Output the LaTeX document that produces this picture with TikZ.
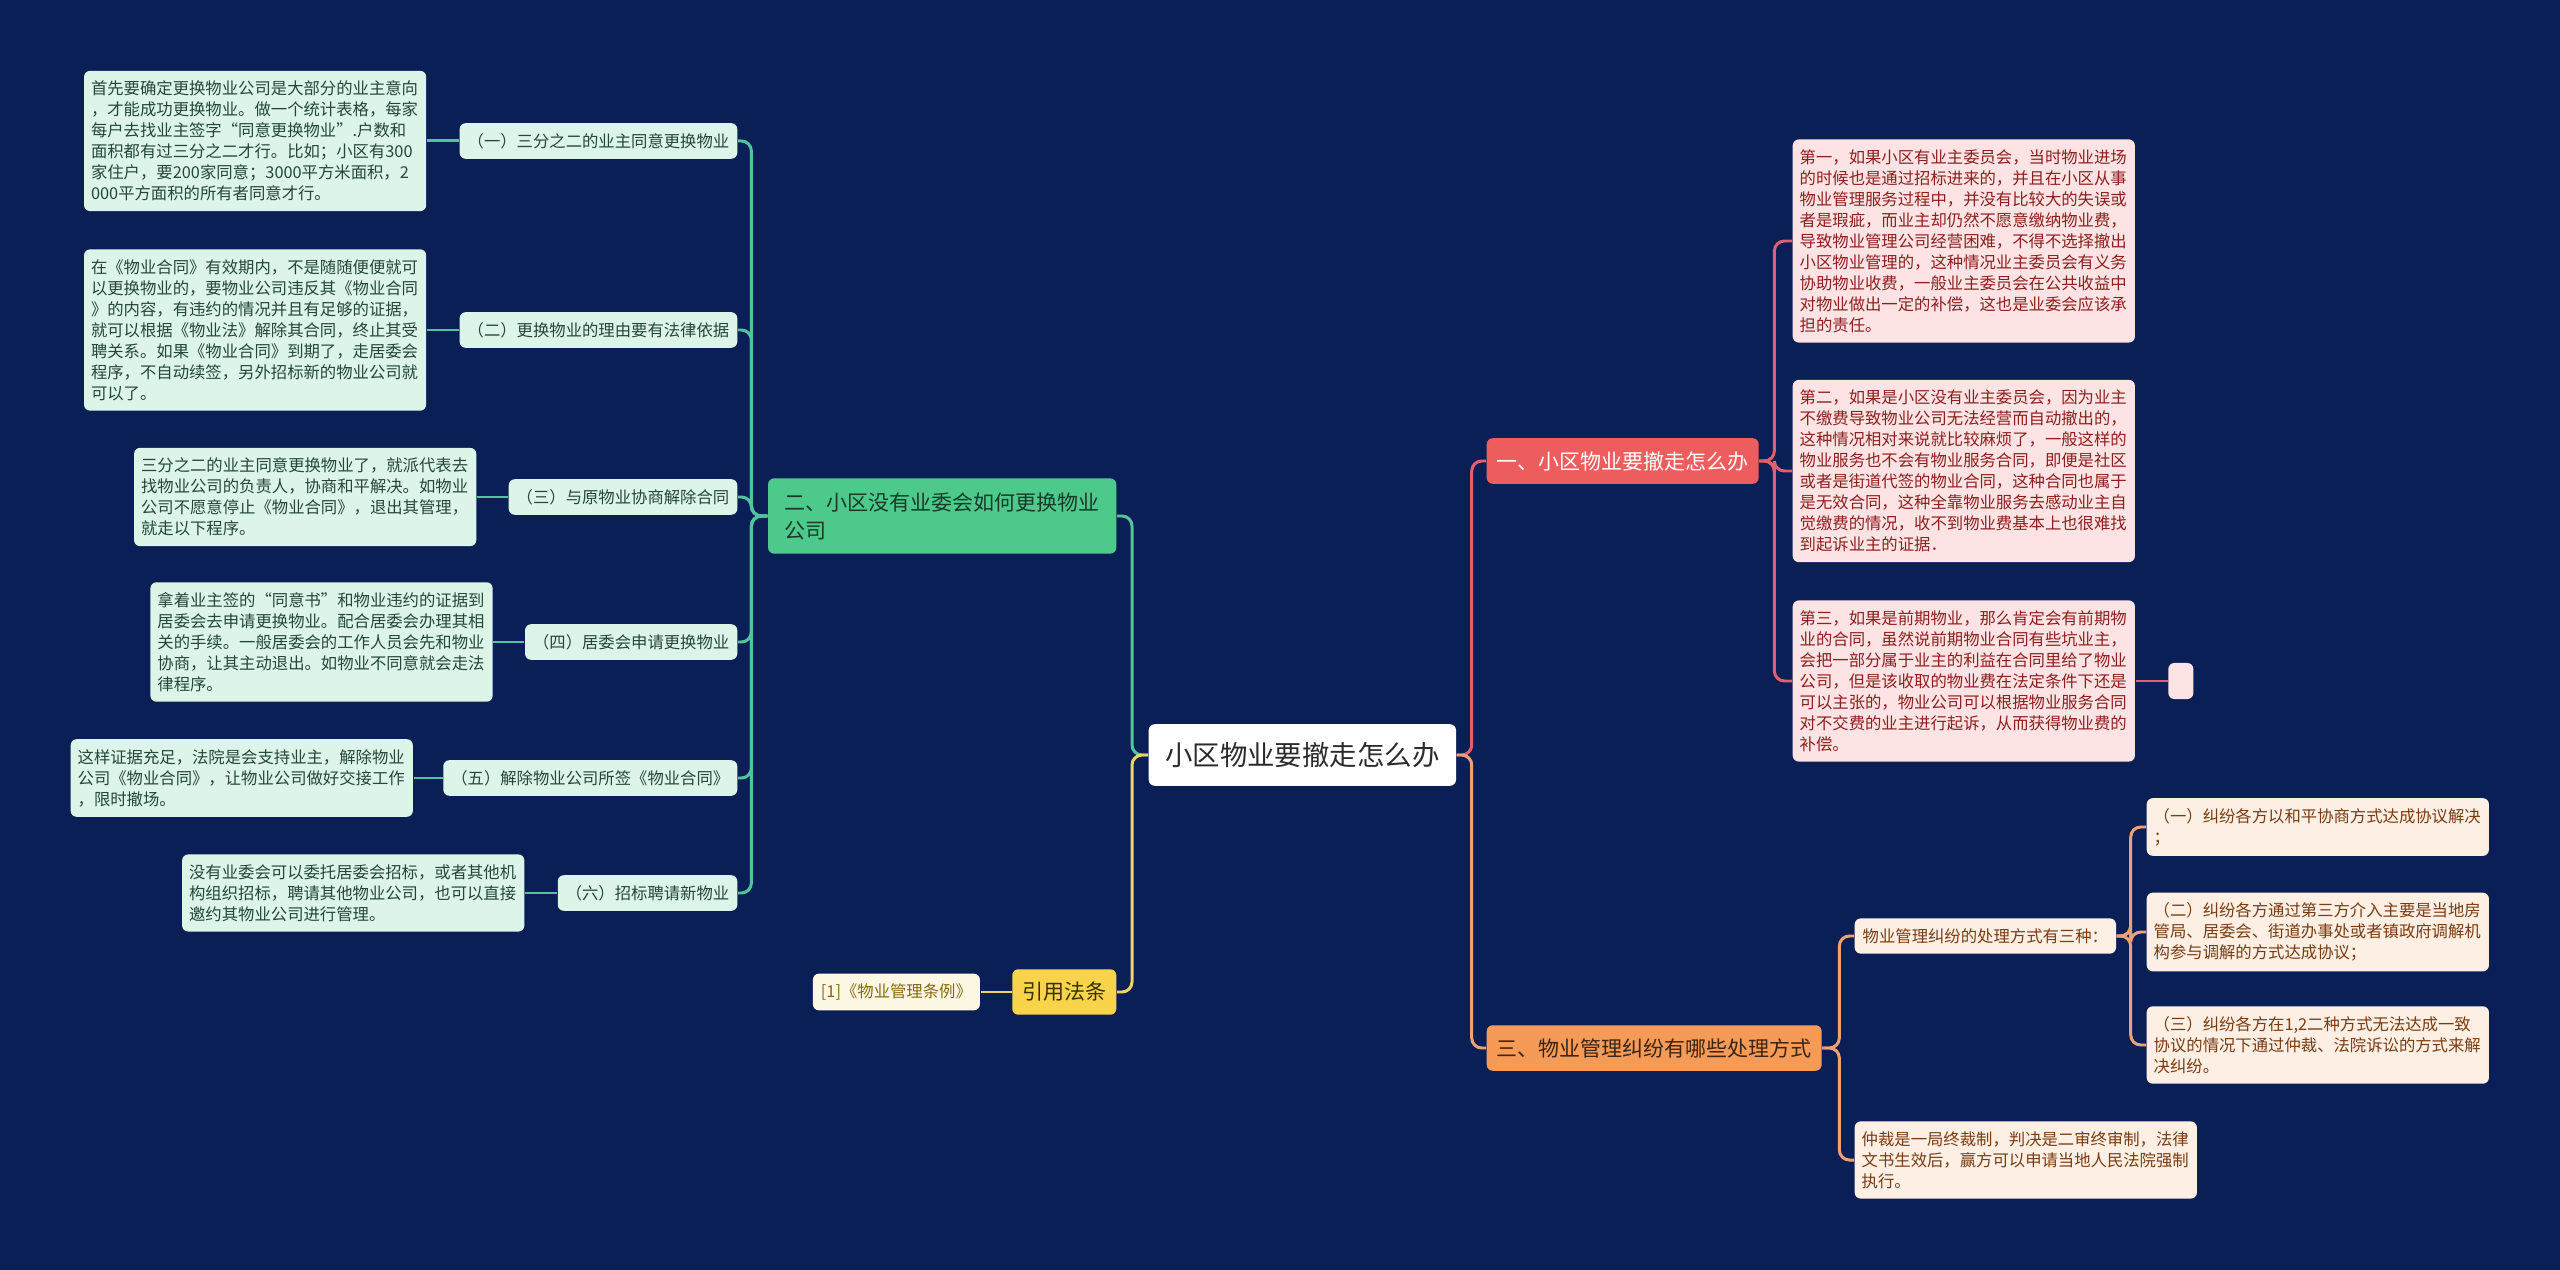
\documentclass[tikz,border=0pt]{standalone}
\usepackage{fontspec}
\usepackage{xcolor}
\usepackage{tikz}
\usetikzlibrary{positioning}

\newfontfamily\cjk{Noto Sans CJK SC}
\newcommand\rootsize{\fontsize{7.8pt}{9.4pt}\selectfont}
\newcommand\branchsize{\fontsize{5.97pt}{7.97pt}\selectfont}
\newcommand\leafsize{\fontsize{4.65pt}{5.97pt}\selectfont}

\definecolor{navybg}{HTML}{0B1F57}
\definecolor{rootink}{HTML}{2B2B2B}
\definecolor{greenfill}{HTML}{4DC98B}
\definecolor{greenink}{HTML}{173A29}
\definecolor{greenline}{HTML}{52C49C}
\definecolor{mint}{HTML}{DDF4E8}
\definecolor{mintink}{HTML}{24473A}
\definecolor{redfill}{HTML}{EE5D5D}
\definecolor{redline}{HTML}{E2606E}
\definecolor{pinkfill}{HTML}{FDE3E3}
\definecolor{pinkink}{HTML}{8E1F1F}
\definecolor{orangefill}{HTML}{F59A57}
\definecolor{orangeink}{HTML}{3B2412}
\definecolor{orangeline}{HTML}{EDA274}
\definecolor{creamfill}{HTML}{FDEFE3}
\definecolor{creamink}{HTML}{7A3C12}
\definecolor{yellowfill}{HTML}{F8D44B}
\definecolor{yellowink}{HTML}{3A3000}
\definecolor{yellowline}{HTML}{F0D462}
\definecolor{paleyellow}{HTML}{FDF8E4}
\definecolor{paleyellowink}{HTML}{87690F}

\begin{document}
\begin{tikzpicture}[
  x=0.01cm,
  y=-0.01cm,
  mapbox/.style={rounded corners=0.06cm, inner xsep=0.1cm, inner ysep=0.1cm, align=left},
  rootbox/.style={mapbox, fill=white, text=rootink, font=\cjk\rootsize, inner xsep=0.165cm, inner ysep=0.18cm},
  branch/.style={mapbox, font=\cjk\branchsize, inner xsep=0.1cm, inner ysep=0.13cm},
  subbox/.style={mapbox, font=\cjk\leafsize, inner xsep=0.08cm, inner ysep=0.1cm},
  leafbox/.style={subbox, text width=3.28cm, inner xsep=0.07cm},
  greensub/.style={subbox, fill=mint, text=mintink},
  greenleaf/.style={leafbox, fill=mint, text=mintink},
  pinkleaf/.style={leafbox, fill=pinkfill, text=pinkink},
  creamsub/.style={subbox, fill=creamfill, text=creamink},
  creamleaf/.style={leafbox, fill=creamfill, text=creamink},
  link/.style={line width=0.85pt, rounded corners=0.1cm},
  glink/.style={link, draw=greenline},
  rlink/.style={link, draw=redline},
  olink/.style={link, draw=orangeline},
  ylink/.style={link, draw=yellowline}
]

% Canvas: 2560 x 1270 px, one unit = one pixel.
\fill[navybg] (0,0) rectangle (2560,1270);
\useasboundingbox (0,0) rectangle (2560,1270);

% Centre topic.
\node[rootbox, anchor=west] (root) at (1148,755) {小区物业要撤走怎么办};

% Main branches.
\node[branch, fill=greenfill, text=greenink, text width=3.16cm, inner xsep=0.16cm, inner ysep=0.14cm, anchor=east] (g2) at (1117,516)
  {二、小区没有业委会如何更换物业\\公司};
\node[branch, fill=yellowfill, text=yellowink, anchor=east] (yref) at (1117,992) {引用法条};
\node[branch, fill=redfill, text=white, anchor=west] (r1) at (1486,461) {一、小区物业要撤走怎么办};
\node[branch, fill=orangefill, text=orangeink, anchor=west] (r3) at (1486,1048) {三、物业管理纠纷有哪些处理方式};

% Left side: sub topics of branch two.
\node[greensub, anchor=east] (s1) at (738,141) {（一）三分之二的业主同意更换物业};
\node[greensub, anchor=east] (s2) at (738,330) {（二）更换物业的理由要有法律依据};
\node[greensub, anchor=east] (s3) at (738,497) {（三）与原物业协商解除合同};
\node[greensub, anchor=east] (s4) at (738,642) {（四）居委会申请更换物业};
\node[greensub, anchor=east] (s5) at (738,778) {（五）解除物业公司所签《物业合同》};
\node[greensub, anchor=east] (s6) at (738,893) {（六）招标聘请新物业};

\node[greenleaf, left=0.32cm of s1] (l1) {首先要确定更换物业公司是大部分的业主意向\\，才能成功更换物业。做一个统计表格，每家\\每户去找业主签字“同意更换物业”.户数和\\面积都有过三分之二才行。比如；小区有300\\家住户，要200家同意；3000平方米面积，2\\000平方面积的所有者同意才行。};
\node[greenleaf, left=0.32cm of s2] (l2) {在《物业合同》有效期内，不是随随便便就可\\以更换物业的，要物业公司违反其《物业合同\\》的内容，有违约的情况并且有足够的证据，\\就可以根据《物业法》解除其合同，终止其受\\聘关系。如果《物业合同》到期了，走居委会\\程序，不自动续签，另外招标新的物业公司就\\可以了。};
\node[greenleaf, left=0.31cm of s3] (l3) {三分之二的业主同意更换物业了，就派代表去\\找物业公司的负责人，协商和平解决。如物业\\公司不愿意停止《物业合同》，退出其管理，\\就走以下程序。};
\node[greenleaf, left=0.31cm of s4] (l4) {拿着业主签的“同意书”和物业违约的证据到\\居委会去申请更换物业。配合居委会办理其相\\关的手续。一般居委会的工作人员会先和物业\\协商，让其主动退出。如物业不同意就会走法\\律程序。};
\node[greenleaf, left=0.29cm of s5] (l5) {这样证据充足，法院是会支持业主，解除物业\\公司《物业合同》，让物业公司做好交接工作\\，限时撤场。};
\node[greenleaf, left=0.32cm of s6] (l6) {没有业委会可以委托居委会招标，或者其他机\\构组织招标，聘请其他物业公司，也可以直接\\邀约其物业公司进行管理。};

% Cited law.
\node[subbox, fill=paleyellow, text=paleyellowink, left=0.31cm of yref] (law) {[1]《物业管理条例》};

% Right side: branch one.
\node[pinkleaf, anchor=west] (p1) at (1792,241) {第一，如果小区有业主委员会，当时物业进场\\的时候也是通过招标进来的，并且在小区从事\\物业管理服务过程中，并没有比较大的失误或\\者是瑕疵，而业主却仍然不愿意缴纳物业费，\\导致物业管理公司经营困难，不得不选择撤出\\小区物业管理的，这种情况业主委员会有义务\\协助物业收费，一般业主委员会在公共收益中\\对物业做出一定的补偿，这也是业委会应该承\\担的责任。};
\node[pinkleaf, anchor=west] (p2) at (1792,471) {第二，如果是小区没有业主委员会，因为业主\\不缴费导致物业公司无法经营而自动撤出的，\\这种情况相对来说就比较麻烦了，一般这样的\\物业服务也不会有物业服务合同，即便是社区\\或者是街道代签的物业合同，这种合同也属于\\是无效合同，这种全靠物业服务去感动业主自\\觉缴费的情况，收不到物业费基本上也很难找\\到起诉业主的证据．};
\node[pinkleaf, anchor=west] (p3) at (1792,681) {第三，如果是前期物业，那么肯定会有前期物\\业的合同，虽然说前期物业合同有些坑业主，\\会把一部分属于业主的利益在合同里给了物业\\公司，但是该收取的物业费在法定条件下还是\\可以主张的，物业公司可以根据物业服务合同\\对不交费的业主进行起诉，从而获得物业费的\\补偿。};
\node[mapbox, fill=pinkfill, inner sep=0pt, minimum width=0.25cm, minimum height=0.36cm, right=0.32cm of p3] (p3x) {};

% Right side: branch three.
\node[creamsub, anchor=west] (o1) at (1854,936) {物业管理纠纷的处理方式有三种：};
\node[creamleaf, anchor=west] (o2) at (1854,1160) {仲裁是一局终裁制，判决是二审终审制，法律\\文书生效后，赢方可以申请当地人民法院强制\\执行。};
\node[creamleaf, anchor=west] (w1) at (2146,827) {（一）纠纷各方以和平协商方式达成协议解决\\；};
\node[creamleaf, anchor=west] (w2) at (2146,932) {（二）纠纷各方通过第三方介入主要是当地房\\管局、居委会、街道办事处或者镇政府调解机\\构参与调解的方式达成协议；};
\node[creamleaf, anchor=west] (w3) at (2146,1045) {（三）纠纷各方在1,2二种方式无法达成一致\\协议的情况下通过仲裁、法院诉讼的方式来解\\决纠纷。};

% Connectors from the centre.
\draw[glink] (root.west) -- ++(-16,0) |- (g2.east);
\draw[ylink] (root.west) -- ++(-16,0) |- (yref.east);
\draw[rlink] (root.east) -- ++(15,0) |- (r1.west);
\draw[olink] (root.east) -- ++(15,0) |- (r3.west);

% Branch two.
\foreach \s in {s1,s2,s3,s4,s5,s6} {
  \draw[glink] (g2.west) -- ++(-16,0) |- (\s.east);
}
\foreach \i in {1,...,6} {
  \draw[glink] (s\i.west) -- (l\i.east);
}
\draw[ylink] (yref.west) -- (law.east);

% Branch one.
\foreach \p in {p1,p2,p3} {
  \draw[rlink] (r1.east) -- ++(15,0) |- (\p.west);
}
\draw[rlink] (p3.east) -- (p3x.west);

% Branch three.
\foreach \o in {o1,o2} {
  \draw[olink] (r3.east) -- ++(17,0) |- (\o.west);
}
\foreach \w in {w1,w2,w3} {
  \draw[olink] (o1.east) -- ++(14,0) |- (\w.west);
}
\end{tikzpicture}
\end{document}
